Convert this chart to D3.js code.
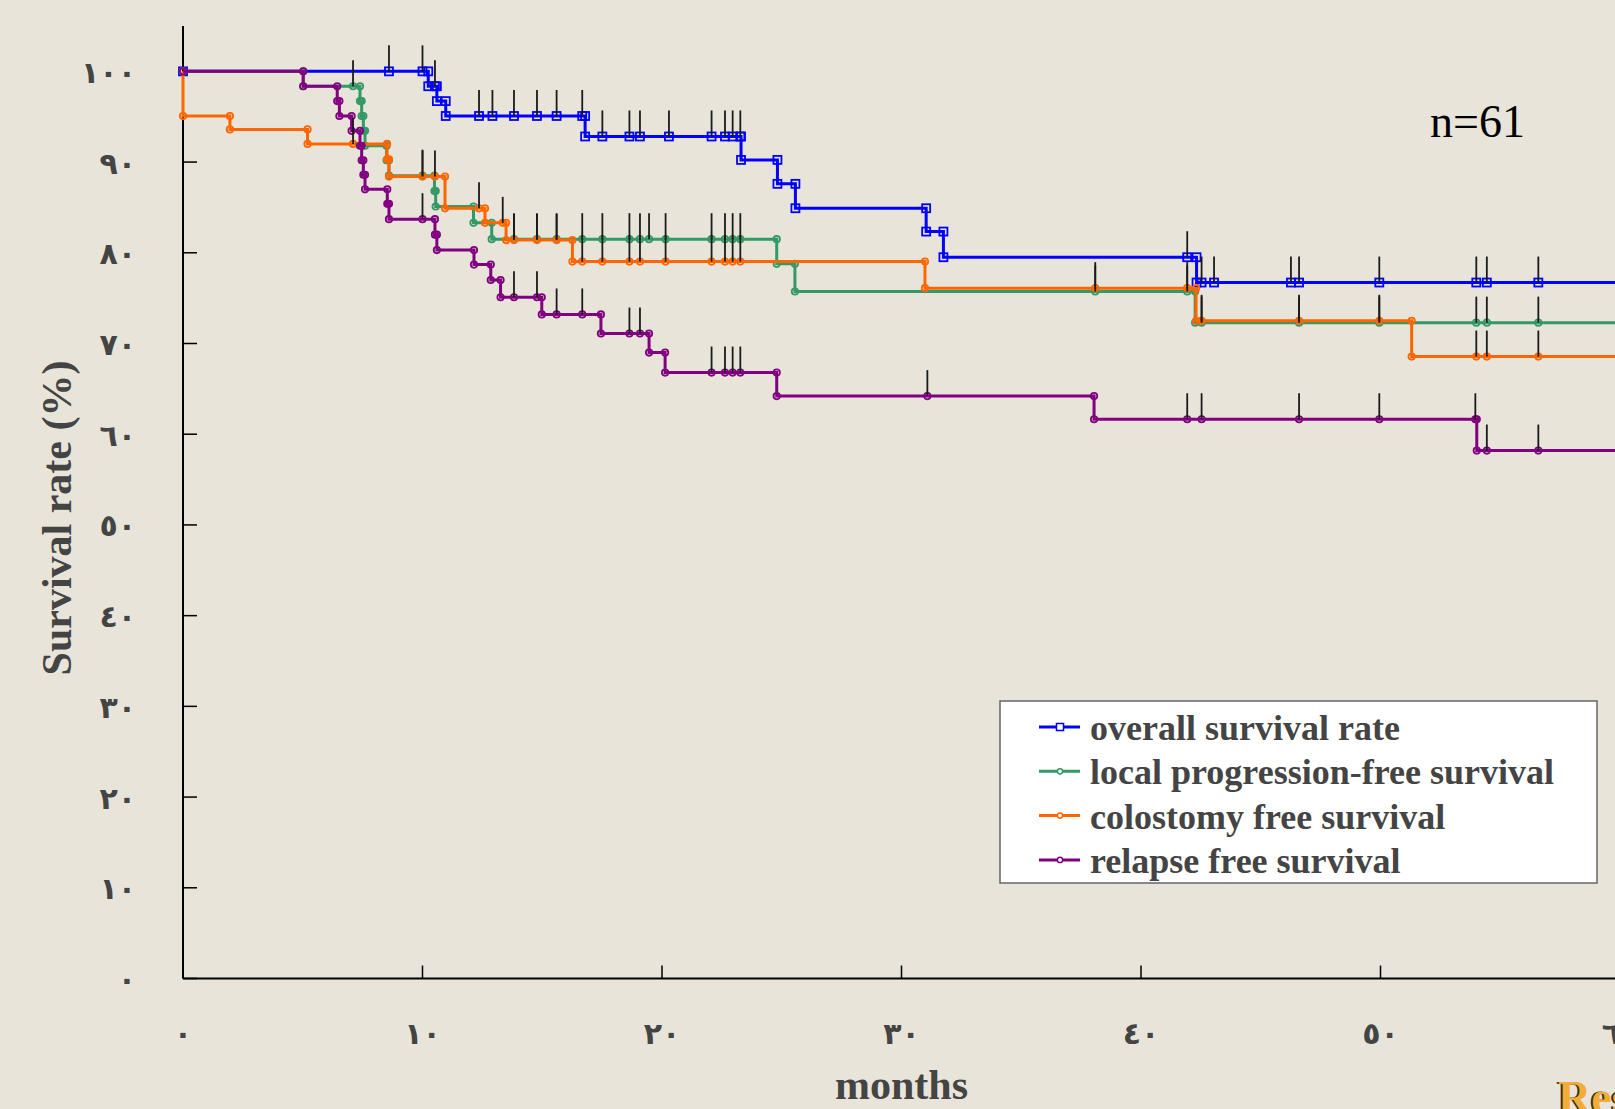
<!DOCTYPE html>
<html lang="en">
<head>
<meta charset="UTF-8">
<title>Survival curves, n=61</title>
<script src="https://d3js.org/d3.v7.min.js"></script>
<style>
  html, body { margin: 0; padding: 0; background: #e8e4d9; overflow: hidden; }
  svg { display: block; }
  .tick-label { font: bold 30px "DejaVu Sans", sans-serif; fill: #444; }
  .axis-title { font: bold 42px "Liberation Serif", "Times New Roman", serif; fill: #444; }
  .legend text { font: bold 36px "Liberation Serif", "Times New Roman", serif; fill: #444; }
  .note { font: 46px "Liberation Serif", "Times New Roman", serif; fill: #000; }
</style>
</head>
<body>
<svg id="chart" width="1615" height="1109"></svg>
<script>
// axis ticks (Arabic-Indic digits as in the original)
const xTicks = [0, 10, 20, 30, 40, 50, 60];
const xTickLabels = ["٠", "١٠", "٢٠", "٣٠", "٤٠", "٥٠", "٦٠"];
const yTicks = [0, 10, 20, 30, 40, 50, 60, 70, 80, 90, 100];
const yTickLabels = ["٠", "١٠", "٢٠", "٣٠", "٤٠", "٥٠", "٦٠", "٧٠", "٨٠", "٩٠", "١٠٠"];

const seriesNames = ["overall survival rate", "local progression-free survival",
                     "colostomy free survival", "relapse free survival"];
const seriesColors = ["#0000ff", "#339966", "#ff6600", "#800080"];
const seriesMarkers = ["square", "circle", "circle", "circle"];

// each step: [month, survival % after the event]
const overallSteps = [[10.24, 98.36], [10.6, 96.72], [10.97, 95.08], [16.79, 92.82],
  [23.3, 90.24], [24.82, 87.6], [25.57, 84.91], [31.03, 82.34], [31.75, 79.51], [42.32, 76.72]];
const overallCensored = [8.6, 10.0, 10.52, 12.36, 12.92, 13.82, 14.78, 15.6, 16.67, 17.51,
  18.64, 19.08, 20.29, 22.07, 22.63, 22.95, 23.27, 41.93, 42.53, 43.05, 46.26, 46.6, 49.95,
  54.0, 54.44, 56.59];

const localSteps = [[5.02, 98.36], [7.39, 96.72], [7.46, 95.08], [7.53, 93.44], [7.6, 91.8],
  [8.5, 90.2], [8.6, 88.5], [10.5, 86.8], [10.55, 85.1], [12.13, 83.3], [12.89, 81.5],
  [24.79, 78.78], [25.55, 75.73], [42.26, 72.3]];
const localCensored = [7.1, 10.0, 13.82, 14.78, 15.6, 16.67, 17.51, 18.64, 19.08, 19.46,
  20.15, 22.07, 22.63, 22.95, 23.27, 38.09, 41.93, 42.53, 46.6, 49.95, 54.0, 54.44, 56.59];

const colostomySteps = [[0, 95.08], [1.96, 93.6], [5.2, 92.0], [8.52, 90.3], [8.6, 88.4],
  [10.94, 84.9], [12.61, 83.3], [13.49, 81.4], [16.26, 79.03], [30.98, 76.1], [42.3, 72.5],
  [51.3, 68.56]];
const colostomyCensored = [7.1, 10.0, 10.52, 12.36, 13.35, 13.82, 14.78, 15.6, 16.67, 17.51,
  18.64, 19.08, 20.15, 22.07, 22.63, 22.95, 23.27, 38.09, 41.93, 42.53, 46.6, 49.95, 54.0,
  54.44, 56.59];

const relapseSteps = [[5.02, 98.36], [6.44, 96.72], [6.53, 95.08], [7.04, 93.44], [7.39, 91.8],
  [7.46, 90.2], [7.53, 88.6], [7.6, 87.0], [8.53, 85.4], [8.6, 83.7], [10.52, 82.0],
  [10.6, 80.3], [12.15, 78.7], [12.85, 77.0], [13.26, 75.1], [14.98, 73.2], [17.45, 71.1],
  [19.46, 69.0], [20.13, 66.8], [24.79, 64.2], [38.04, 61.65], [54.02, 58.2]];
const relapseCensored = [10.0, 13.82, 14.78, 15.6, 16.67, 18.64, 19.08, 22.07, 22.63, 22.95,
  23.27, 31.08, 41.93, 42.53, 46.6, 49.95, 53.96, 54.44, 56.59];

const allSteps = [overallSteps, localSteps, colostomySteps, relapseSteps];
const allCensored = [overallCensored, localCensored, colostomyCensored, relapseCensored];

const svg = d3.select("#chart");
const x = d3.scaleLinear().domain([0, 60]).range([183, 1620]);
const y = d3.scaleLinear().domain([0, 105]).range([978.5, 26]);

// axes
svg.append("line").attr("x1", x(0)).attr("x2", x(0)).attr("y1", y(105)).attr("y2", y(0))
  .attr("stroke", "#000").attr("stroke-width", 2);
svg.append("line").attr("x1", x(0)).attr("x2", x(60)).attr("y1", y(0)).attr("y2", y(0))
  .attr("stroke", "#000").attr("stroke-width", 2);

svg.append("g").selectAll("line").data(yTicks).join("line")
  .attr("x1", x(0)).attr("x2", x(0) + 14)
  .attr("y1", d => y(d)).attr("y2", d => y(d))
  .attr("stroke", "#000").attr("stroke-width", 1.5);
svg.append("g").selectAll("line").data(xTicks).join("line")
  .attr("x1", d => x(d)).attr("x2", d => x(d))
  .attr("y1", y(0)).attr("y2", y(0) - 13)
  .attr("stroke", "#000").attr("stroke-width", 1.5);

svg.append("g").selectAll("text").data(yTicks).join("text")
  .attr("class", "tick-label")
  .attr("x", 136).attr("y", d => y(d) + 3)
  .attr("text-anchor", "end").attr("dominant-baseline", "middle")
  .text((d, i) => yTickLabels[i]);
svg.append("g").selectAll("text").data(xTicks).join("text")
  .attr("class", "tick-label")
  .attr("x", d => x(d)).attr("y", 1035)
  .attr("text-anchor", "middle").attr("dominant-baseline", "middle")
  .text((d, i) => xTickLabels[i]);

svg.append("text").attr("class", "axis-title")
  .attr("transform", "translate(71,518) rotate(-90)")
  .attr("text-anchor", "middle")
  .text("Survival rate (%)");
svg.append("text").attr("class", "axis-title")
  .attr("x", x(30)).attr("y", 1099).attr("text-anchor", "middle")
  .text("months");

// Kaplan-Meier helpers
function valueAt(start, steps, t) {
  let v = start;
  steps.forEach(s => { if (s[0] <= t) v = s[1]; });
  return v;
}
function stairs(start, steps) {
  const pts = [[0, start]];
  let prev = start;
  steps.forEach(([t, v]) => { pts.push([t, prev]); pts.push([t, v]); prev = v; });
  return pts;
}

const line = d3.line().x(d => x(d[0])).y(d => y(d[1]));

function drawMarkers(g, pts, shape, color) {
  if (shape === "square") {
    g.selectAll("rect").data(pts).join("rect")
      .attr("x", d => x(d[0]) - 4).attr("y", d => y(d[1]) - 4)
      .attr("width", 8).attr("height", 8)
      .attr("fill", "none").attr("stroke", color).attr("stroke-width", 1.8);
  } else {
    g.selectAll("circle").data(pts).join("circle")
      .attr("cx", d => x(d[0])).attr("cy", d => y(d[1])).attr("r", 3.2)
      .attr("fill", "none").attr("stroke", color).attr("stroke-width", 1.8);
  }
}

allSteps.forEach((steps, i) => {
  const pts = stairs(100, steps);
  const last = pts[pts.length - 1][1];
  const g = svg.append("g");
  g.append("path").datum(pts.concat([[60, last]]))
    .attr("d", line).attr("fill", "none")
    .attr("stroke", seriesColors[i]).attr("stroke-width", 3);
  const cens = allCensored[i].map(t => [t, valueAt(100, steps, t)]);
  drawMarkers(g, pts.concat(cens), seriesMarkers[i], seriesColors[i]);
});

// censoring ticks
allSteps.forEach((steps, i) => {
  svg.append("g").selectAll("line").data(allCensored[i]).join("line")
    .attr("x1", d => x(d)).attr("x2", d => x(d))
    .attr("y1", d => y(valueAt(100, steps, d)))
    .attr("y2", d => y(valueAt(100, steps, d)) - 26)
    .attr("stroke", "#1a1a1a").attr("stroke-width", 1.8);
});

// n label
svg.append("text").attr("class", "note").attr("x", 1430).attr("y", 137).text("n=61");

// legend
const legend = svg.append("g").attr("class", "legend");
legend.append("rect").attr("x", 1000).attr("y", 701).attr("width", 597).attr("height", 182)
  .attr("fill", "#fff").attr("stroke", "#666").attr("stroke-width", 1.5);
seriesNames.forEach((name, i) => {
  const cy = 727 + i * 44.3;
  legend.append("line").attr("x1", 1039).attr("x2", 1080).attr("y1", cy).attr("y2", cy)
    .attr("stroke", seriesColors[i]).attr("stroke-width", 3);
  if (seriesMarkers[i] === "square") {
    legend.append("rect").attr("x", 1056.5).attr("y", cy - 3.5).attr("width", 7).attr("height", 7)
      .attr("fill", "#fff").attr("stroke", seriesColors[i]).attr("stroke-width", 1.5);
  } else {
    legend.append("circle").attr("cx", 1060).attr("cy", cy).attr("r", 2.6)
      .attr("fill", "#fff").attr("stroke", seriesColors[i]).attr("stroke-width", 1.5);
  }
  legend.append("text").attr("x", 1090).attr("y", cy + 13).text(name);
});

// cut-off heading at the bottom right
svg.append("text").attr("x", 1556).attr("y", 1113)
  .attr("font-family", "Liberation Serif, serif").attr("font-weight", "bold")
  .attr("font-size", 46).attr("fill", "#3a3020").text("Results");
svg.append("text").attr("x", 1558).attr("y", 1113)
  .attr("font-family", "Liberation Serif, serif").attr("font-weight", "bold")
  .attr("font-size", 46).attr("fill", "#f2ac38").text("Results");
</script>
</body>
</html>
